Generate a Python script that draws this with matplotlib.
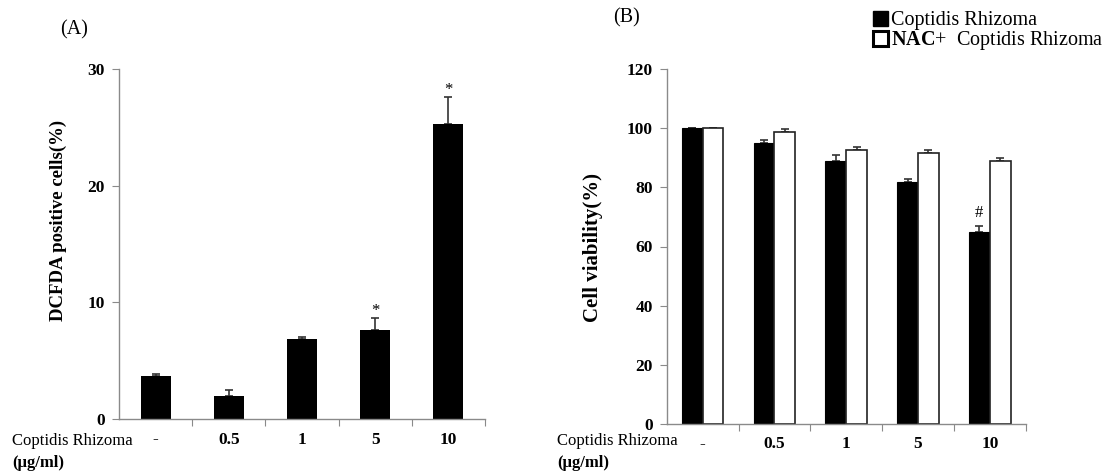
import matplotlib
matplotlib.use("Agg")
import matplotlib.pyplot as plt
from matplotlib.patches import Patch
import numpy as np

plt.rcParams['font.family'] = ['Liberation Serif', 'DejaVu Serif']
plt.rcParams['mathtext.fontset'] = 'custom'
plt.rcParams['mathtext.rm'] = 'Liberation Serif'
plt.rcParams['mathtext.bf'] = 'Liberation Serif:bold'

categories = ["-", "0.5", "1", "5", "10"]

# Panel A: DCFDA positive cells (%)
dcfda_mean = [3.7, 2.0, 6.85, 7.65, 25.3]
dcfda_err = [0.15, 0.45, 0.15, 1.05, 2.3]
dcfda_marks = ["", "", "", "*", "*"]

# Panel B: cell viability (%)
cr_mean = [100, 95.0, 89.0, 82.0, 64.8]
cr_err = [0.0, 1.0, 2.1, 1.0, 2.2]
nac_mean = [100, 98.8, 92.8, 91.8, 88.9]
nac_err = [0.0, 1.0, 1.0, 1.0, 1.1]
cr_marks = ["", "", "", "", "#"]

W, H = 1119, 476
fig = plt.figure(figsize=(W / 100, H / 100), dpi=100)

spine_col = '#8a8a8a'

def style_axis(ax):
    for s in ['top', 'right']:
        ax.spines[s].set_visible(False)
    for s in ['left', 'bottom']:
        ax.spines[s].set_color(spine_col)
        ax.spines[s].set_linewidth(1.0)
    n = len(categories)
    x = np.arange(n)
    ax.set_xlim(-0.5, n - 0.5)
    ax.set_xticks(x + 0.5)
    ax.set_xticklabels([])
    ax.set_xticks(x, minor=True)
    ax.set_xticklabels(categories, minor=True)
    ax.tick_params(axis='x', which='major', length=5, color=spine_col, direction='out')
    ax.tick_params(axis='x', which='minor', length=0, pad=9, labelsize=12.5)
    ax.tick_params(axis='y', length=5, color=spine_col, direction='out', labelsize=12.5, pad=5)
    for lab in ax.get_xticklabels(minor=True):
        lab.set_fontweight('bold' if lab.get_text() != '-' else 'normal')
    for lab in ax.get_yticklabels():
        lab.set_fontweight('bold')

# ---- Panel A ----
axA = fig.add_axes([119 / W, 1 - 419 / H, (485 - 119) / W, (419 - 69) / H])
xA = np.arange(len(categories))
axA.bar(xA, dcfda_mean, width=0.41, color='black', zorder=2)
axA.errorbar(xA, dcfda_mean, yerr=[np.zeros(len(xA)), dcfda_err], fmt='none',
             ecolor='#333333', elinewidth=1.2, capsize=3, capthick=1.2, zorder=1)
for xi, m, e, t in zip(xA, dcfda_mean, dcfda_err, dcfda_marks):
    if t:
        axA.text(xi, m + e + 0.6, t, ha='center', va='center', fontsize=12)
axA.set_ylim(0, 30)
axA.set_yticks([0, 10, 20, 30])
style_axis(axA)
fig.text(58 / W, 1 - 220 / H, "DCFDA positive cells(%)", rotation=90, ha='center', va='center',
         fontsize=13.5, fontweight='bold')
fig.text(60 / W, 1 - 30 / H, "(A)", ha='left', va='center', fontsize=14.5)
fig.text(12 / W, 1 - 441 / H, "Coptidis Rhizoma", ha='left', va='center', fontsize=12)
fig.text(12 / W, 1 - 463 / H, "(μg/ml)", ha='left', va='center', fontsize=12, fontweight='bold')

# ---- Panel B ----
axB = fig.add_axes([666.7 / W, 1 - 423.7 / H, (1025.7 - 666.7) / W, (423.7 - 69.3) / H])
xB = np.arange(len(categories))
bw = 0.29
axB.bar(xB - bw / 2, cr_mean, width=bw, color='black', edgecolor='black', linewidth=0.8, zorder=2)
axB.bar(xB + bw / 2, nac_mean, width=bw, color='white', edgecolor='#222222', linewidth=1.2, zorder=2)
axB.errorbar(xB - bw / 2, cr_mean, yerr=[np.zeros(len(xB)), cr_err], fmt='none',
             ecolor='#333333', elinewidth=1.2, capsize=3, capthick=1.2, zorder=1)
axB.errorbar(xB + bw / 2, nac_mean, yerr=[np.zeros(len(xB)), nac_err], fmt='none',
             ecolor='#333333', elinewidth=1.2, capsize=3, capthick=1.2, zorder=1)
for xi, m, e, t in zip(xB - bw / 2, cr_mean, cr_err, cr_marks):
    if t:
        axB.text(xi, m + e + 4.5, t, ha='center', va='center', fontsize=12)
axB.set_ylim(0, 120)
axB.set_yticks([0, 20, 40, 60, 80, 100, 120])
style_axis(axB)
fig.text(593 / W, 1 - 248 / H, "Cell viability(%)", rotation=90, ha='center', va='center',
         fontsize=15, fontweight='bold')
fig.text(613 / W, 1 - 18 / H, "(B)", ha='left', va='center', fontsize=14.5)
fig.text(557 / W, 1 - 441 / H, "Coptidis Rhizoma", ha='left', va='center', fontsize=12)
fig.text(557 / W, 1 - 463 / H, "(μg/ml)", ha='left', va='center', fontsize=12, fontweight='bold')

handles = [Patch(facecolor='black', edgecolor='black'),
           Patch(facecolor='white', edgecolor='black', linewidth=2.2)]
labels = ["Coptidis Rhizoma", r"$\mathbf{NAC}$+  Coptidis Rhizoma"]
fig.legend(handles, labels, loc='upper left', bbox_to_anchor=(873 / W, 1 - 11 / H),
           frameon=False, fontsize=14.5, handlelength=0.75, handleheight=0.75,
           handletextpad=0.15, labelspacing=-0.05, borderaxespad=0, borderpad=0)

fig.savefig("out.png", dpi=100)
